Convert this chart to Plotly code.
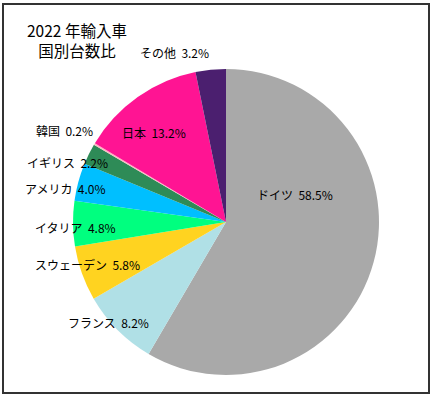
import plotly.graph_objects as go

labels = ["ドイツ", "フランス", "スウェーデン", "イタリア", "アメリカ", "イギリス", "韓国", "日本", "その他"]
values = [58.5, 8.2, 5.8, 4.8, 4.0, 2.2, 0.2, 13.2, 3.2]
colors = ["#A9A9A9", "#B0E0E6", "#FFD320", "#00FF7F", "#00BFFF", "#2E8B57", "#FFB6C1", "#FF1493", "#4B1F6F"]
title_text = "2022 年輸入車<br>国別台数比"

# label anchor points (pixel positions in the 433x398 figure) – layout only
label_px = [(295, 194), (108, 322), (87, 264), (75, 227), (65, 188), (67, 162), (64, 130), (154, 132), (174, 52)]

W, H = 433, 398
cx, cy, r = 226, 222, 153


def px(x):
    return x / W


def py(y):
    return 1 - y / H


fig = go.Figure(go.Pie(
    labels=labels,
    values=values,
    sort=False,
    direction="clockwise",
    rotation=0,
    marker=dict(colors=colors, line=dict(width=0)),
    textinfo="none",
    showlegend=False,
    hoverinfo="label+value",
    domain=dict(x=[px(cx - r), px(cx + r)], y=[py(cy + r), py(cy - r)]),
))

annotations = [dict(
    text=title_text, x=px(77), y=py(40), xref="paper", yref="paper",
    showarrow=False, font=dict(size=15.5, color="black"), align="center",
    xanchor="center", yanchor="middle",
)]
for lab, val, (lx, ly) in zip(labels, values, label_px):
    annotations.append(dict(
        text=f"{lab}\u00a0 {val:.1f}%", x=px(lx), y=py(ly), xref="paper", yref="paper",
        showarrow=False, font=dict(size=12, color="black"),
        xanchor="center", yanchor="middle",
    ))

fig.update_layout(
    width=W, height=H,
    margin=dict(l=0, r=0, t=0, b=0, autoexpand=False),
    paper_bgcolor="white",
    font=dict(family="Noto Sans CJK JP"),
    annotations=annotations,
    shapes=[dict(type="rect", xref="paper", yref="paper",
                 x0=px(3), x1=px(429), y0=py(393), y1=py(4),
                 line=dict(color="#333333", width=2))],
)

fig.write_html(
    "out.html",
    config={"displayModeBar": False},
    post_script="document.body.style.margin='0';document.body.style.overflow='hidden';",
)
